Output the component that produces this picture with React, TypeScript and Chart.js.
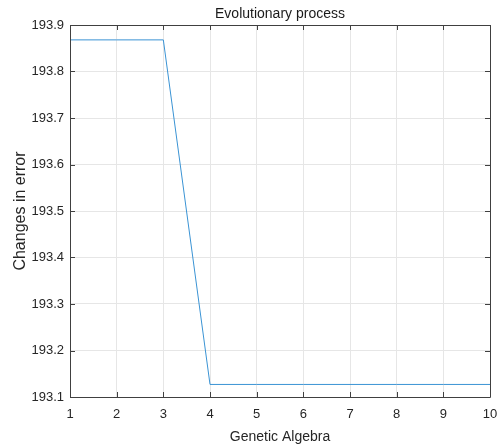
import React, { useEffect, useRef } from "react";
import { Chart, registerables } from "chart.js";

Chart.register(...registerables);

const generations = [1, 2, 3, 4, 5, 6, 7, 8, 9, 10];
const errorValues = [193.868, 193.868, 193.868, 193.127, 193.127, 193.127, 193.127, 193.127, 193.127, 193.127];
const xTicks = [1, 2, 3, 4, 5, 6, 7, 8, 9, 10];
const yTicks = [193.1, 193.2, 193.3, 193.4, 193.5, 193.6, 193.7, 193.8, 193.9];
const titleText = "Evolutionary process";
const xTitle = "Genetic Algebra";
const yTitle = "Changes in error";

const FONT = "'Liberation Sans', Arial, Helvetica, sans-serif";

const decorPlugin = {
  id: "decor",
  afterDraw(chart: any) {
    const { ctx, chartArea } = chart;
    const { left, right, top, bottom } = chartArea;
    const xs = chart.scales.x;
    const ys = chart.scales.y;
    ctx.save();
    ctx.strokeStyle = "#404040";
    ctx.lineWidth = 1;
    ctx.beginPath();
    ctx.rect(Math.round(left) + 0.5, Math.round(top) + 0.5, Math.round(right - left), Math.round(bottom - top));
    ctx.stroke();
    const tl = 5;
    ctx.beginPath();
    xTicks.forEach((v) => {
      const px = Math.round(xs.getPixelForValue(v)) + 0.5;
      ctx.moveTo(px, bottom);
      ctx.lineTo(px, bottom - tl);
      ctx.moveTo(px, top);
      ctx.lineTo(px, top + tl);
    });
    yTicks.forEach((v) => {
      const py = Math.round(ys.getPixelForValue(v)) + 0.5;
      ctx.moveTo(left, py);
      ctx.lineTo(left + tl, py);
      ctx.moveTo(right, py);
      ctx.lineTo(right - tl, py);
    });
    ctx.stroke();
    ctx.fillStyle = "#1a1a1a";
    ctx.textAlign = "center";
    ctx.textBaseline = "alphabetic";
    ctx.font = `14px ${FONT}`;
    ctx.fillText(titleText, (left + right) / 2, 18);
    ctx.fillStyle = "#262626";
    ctx.font = `14px ${FONT}`;
    ctx.fillText(xTitle, (left + right) / 2, 441);
    ctx.save();
    ctx.translate(25, (top + bottom) / 2);
    ctx.rotate(-Math.PI / 2);
    ctx.font = `16px ${FONT}`;
    ctx.fillText(yTitle, 0, 0);
    ctx.restore();
    ctx.restore();
  },
};

export default function App() {
  const ref = useRef<HTMLCanvasElement | null>(null);
  useEffect(() => {
    if (!ref.current) return;
    const chart = new Chart(ref.current, {
      type: "line",
      data: {
        datasets: [
          {
            data: generations.map((g, i) => ({ x: g, y: errorValues[i] })),
            borderColor: "#3a93d4",
            borderWidth: 1,
            pointRadius: 0,
            fill: false,
            tension: 0,
          },
        ],
      },
      options: {
        responsive: false,
        animation: false,
        layout: { padding: { top: 25, right: 0, left: 0, bottom: 0 } },
        plugins: { legend: { display: false }, title: { display: false }, tooltip: { enabled: false } },
        scales: {
          x: {
            type: "linear",
            min: 1,
            max: 10,
            afterBuildTicks: (axis: any) => {
              axis.ticks = xTicks.map((v) => ({ value: v }));
            },
            afterFit: (axis: any) => {
              axis.height = 49;
              axis.paddingRight = 8;
              axis.paddingLeft = 0;
            },
            grid: { color: "#e6e6e6", drawTicks: false },
            border: { display: false },
            ticks: {
              padding: 10,
              color: "#262626",
              font: { family: FONT, size: 13 },
              maxRotation: 0,
              autoSkip: false,
              callback: (v: any) => String(v),
            },
          },
          y: {
            type: "linear",
            min: 193.1,
            max: 193.9,
            afterBuildTicks: (axis: any) => {
              axis.ticks = yTicks.map((v) => ({ value: v }));
            },
            afterFit: (axis: any) => {
              axis.width = 70;
            },
            grid: { color: "#e6e6e6", drawTicks: false },
            border: { display: false },
            ticks: {
              padding: 6,
              color: "#262626",
              font: { family: FONT, size: 13 },
              autoSkip: false,
              callback: (v: any) => Number(v).toFixed(1),
            },
          },
        },
      },
      plugins: [decorPlugin],
    });
    return () => chart.destroy();
  }, []);
  return (
    <div style={{ position: "fixed", left: 0, top: 0, width: 498, height: 446, background: "#fff" }}>
      <canvas ref={ref} width={498} height={446} />
    </div>
  );
}
